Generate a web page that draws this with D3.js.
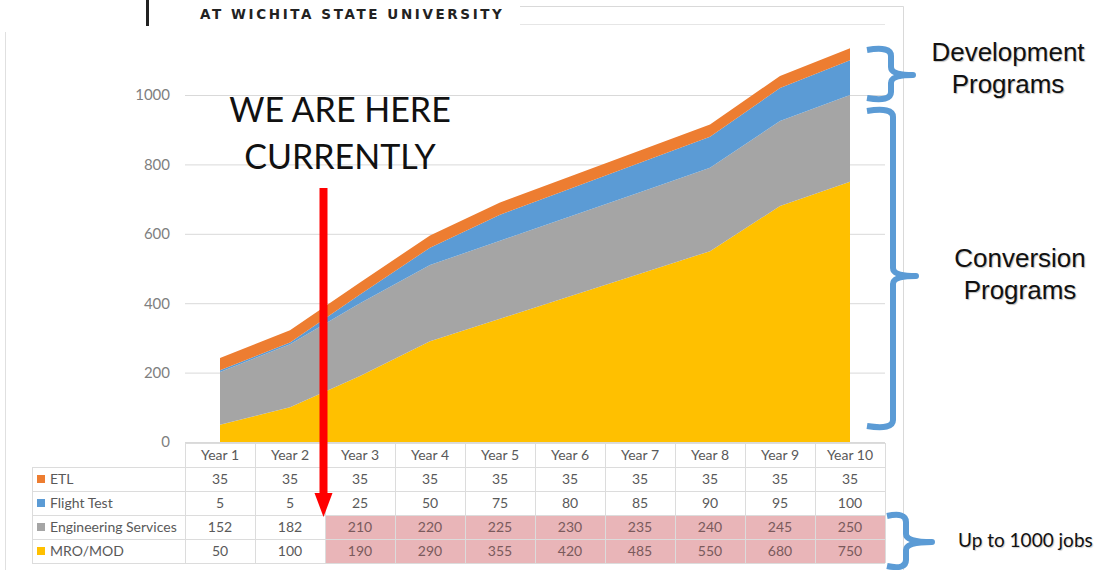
<!DOCTYPE html>
<html lang="en">
<head>
<meta charset="UTF-8">
<title>Jobs by program</title>
<script src="https://cdnjs.cloudflare.com/ajax/libs/d3/7.8.5/d3.min.js"></script>
<style>
    body { margin: 0; background: #fff; }
    svg { display: block; }
    .tick text { fill: #7f7f7f; font-family: Lato, sans-serif; font-size: 15px; }
    .cell { fill: #595959; font-family: Lato, sans-serif; font-size: 14px; }
    .note { fill: #111; }
</style>
</head>
<body>
<svg width="1100" height="570"></svg>
<script>
    // data
    const years = ["Year 1", "Year 2", "Year 3", "Year 4", "Year 5", "Year 6", "Year 7", "Year 8", "Year 9", "Year 10"];
    const etl = [35, 35, 35, 35, 35, 35, 35, 35, 35, 35];
    const flightTest = [5, 5, 25, 50, 75, 80, 85, 90, 95, 100];
    const engServices = [152, 182, 210, 220, 225, 230, 235, 240, 245, 250];
    const mroMod = [50, 100, 190, 290, 355, 420, 485, 550, 680, 750];
    const yTicks = [0, 200, 400, 600, 800, 1000];

    const series = [
        { name: "ETL", values: etl, color: "#ed7d31" },
        { name: "Flight Test", values: flightTest, color: "#5b9bd5" },
        { name: "Engineering Services", values: engServices, color: "#a5a5a5" },
        { name: "MRO/MOD", values: mroMod, color: "#ffc000" }
    ];

    const svg = d3.select("svg");

    // page header scrap
    svg.append("rect").attr("x", 146).attr("y", 0).attr("width", 3).attr("height", 26).attr("fill", "#222");
    svg.append("text").attr("x", 200).attr("y", 19)
        .attr("font-family", "'DejaVu Sans', sans-serif").attr("font-weight", "bold")
        .attr("font-size", 13.5).attr("letter-spacing", 2.6).attr("fill", "#222")
        .text("AT WICHITA STATE UNIVERSITY");
    svg.append("line").attr("x1", 520).attr("x2", 885).attr("y1", 24.5).attr("y2", 24.5).attr("stroke", "#e6e6e6");

    // chart frame
    svg.append("path").attr("d", "M520,6.5H903.5V570").attr("fill", "none").attr("stroke", "#d9d9d9");
    svg.append("line").attr("x1", 5.5).attr("x2", 5.5).attr("y1", 32).attr("y2", 570).attr("stroke", "#e0e0e0");

    const x = d3.scaleBand().domain(years).range([185, 885]);
    const y = d3.scaleLinear().domain([0, 1000]).range([442, 95]);
    const cx = d => x(d) + x.bandwidth() / 2;

    // gridlines + axis
    const yAxis = svg.append("g").attr("transform", "translate(185,0)")
        .call(d3.axisLeft(y).tickValues(yTicks).tickSize(-700).tickPadding(15).tickFormat(d3.format("d")));
    yAxis.select(".domain").remove();
    yAxis.selectAll(".tick line").attr("stroke", "#d9d9d9");

    // stacked areas
    const rows = years.map((yr, i) => {
        const r = { year: yr };
        series.forEach(s => r[s.name] = s.values[i]);
        return r;
    });
    const stack = d3.stack().keys(series.map(s => s.name).reverse());
    const layers = stack(rows);
    const area = d3.area()
        .x(d => cx(d.data.year))
        .y0(d => y(d[0]))
        .y1(d => y(d[1]));
    svg.append("g").selectAll("path")
        .data(layers)
        .join("path")
        .attr("d", area)
        .attr("fill", d => series.find(s => s.name === d.key).color);

    // data table
    const rowH = 24;
    const tableTop = 443;
    const labelX = 32;
    const tbl = svg.append("g");

    // highlight for conversion jobs (Year 3 onward, two bottom rows)
    tbl.append("rect")
        .attr("x", x("Year 3")).attr("y", tableTop + rowH * 3)
        .attr("width", x("Year 10") + x.bandwidth() - x("Year 3"))
        .attr("height", rowH * 2)
        .attr("fill", "#e9b5b8");

    const gridColor = "#dcdcdc";
    tbl.append("line").attr("x1", 185).attr("x2", 885).attr("y1", tableTop + 0.5).attr("y2", tableTop + 0.5).attr("stroke", gridColor);
    for (let r = 1; r <= 5; r++) {
        tbl.append("line").attr("x1", labelX).attr("x2", 885)
            .attr("y1", tableTop + r * rowH + 0.5).attr("y2", tableTop + r * rowH + 0.5).attr("stroke", gridColor);
    }
    tbl.append("line").attr("x1", labelX + 0.5).attr("x2", labelX + 0.5)
        .attr("y1", tableTop + rowH).attr("y2", tableTop + rowH * 5).attr("stroke", gridColor);
    years.concat(["end"]).forEach((yr, i) => {
        const xx = i < years.length ? x(yr) : 885;
        tbl.append("line").attr("x1", xx + 0.5).attr("x2", xx + 0.5)
            .attr("y1", tableTop).attr("y2", tableTop + rowH * 5).attr("stroke", gridColor);
    });

    tbl.selectAll("text.hdr").data(years).join("text")
        .attr("class", "cell hdr")
        .attr("x", d => cx(d)).attr("y", tableTop + rowH / 2 + 5)
        .attr("text-anchor", "middle")
        .text(d => d);

    series.forEach((s, ri) => {
        const top = tableTop + rowH * (ri + 1);
        tbl.append("rect").attr("x", 37).attr("y", top + rowH / 2 - 4).attr("width", 8).attr("height", 8).attr("fill", s.color);
        tbl.append("text").attr("class", "cell").attr("x", 50).attr("y", top + rowH / 2 + 5).text(s.name);
        tbl.selectAll(null).data(s.values).join("text")
            .attr("class", "cell")
            .attr("x", (d, i) => cx(years[i])).attr("y", top + rowH / 2 + 5)
            .attr("text-anchor", "middle")
            .style("fill", (d, i) => (ri >= 2 && i >= 2) ? "#7a5a5c" : null)
            .text(d => d);
    });

    // "we are here" annotation
    const bigFont = sel => sel.style("font-family", "Lato, sans-serif").style("font-size", "34px");
    svg.append("text").attr("class", "note").attr("x", 340).attr("y", 122)
        .attr("text-anchor", "middle").call(bigFont).text("WE ARE HERE");
    svg.append("text").attr("class", "note").attr("x", 340).attr("y", 169)
        .attr("text-anchor", "middle").call(bigFont).text("CURRENTLY");
    const ax = 323.5;
    svg.append("rect").attr("x", ax - 4).attr("y", 188).attr("width", 8).attr("height", 306).attr("fill", "#ff0000");
    svg.append("path").attr("d", `M${ax - 9},493L${ax + 9},493L${ax},517Z`).attr("fill", "#ff0000");

    // braces
    const brace = (xe, xs, xt, y0, y1, ym) => {
        const r = 8;
        return `M${xe},${y0 + 2}Q${xs},${y0 - 2} ${xs},${y0 + r}` +
            `L${xs},${ym - r}Q${xs},${ym} ${xt},${ym}` +
            `M${xs},${ym - r}Q${xs},${ym} ${xt},${ym}` +
            `Q${xs},${ym} ${xs},${ym + r}L${xs},${y1 - r}Q${xs},${y1 + 2} ${xe},${y1 - 2}`;
    };
    const bstyle = sel => sel.attr("fill", "none").attr("stroke", "#5b9bd5").attr("stroke-width", 6)
        .attr("stroke-linecap", "butt").attr("stroke-linejoin", "round");
    svg.append("path").attr("d", brace(867, 891, 913, 48, 100, 75)).call(bstyle);
    svg.append("path").attr("d", brace(867, 893, 916, 109, 428, 276)).call(bstyle);
    svg.append("path").attr("d", brace(887, 906, 932, 514, 568, 542)).call(bstyle);

    const sideFont = sel => sel.style("font-family", "'Liberation Sans', Arial, sans-serif").style("font-size", "26px")
        .style("text-shadow", "1px 1px 1px rgba(0,0,0,0.25)");
    svg.append("text").attr("class", "note").attr("x", 1008).attr("y", 61).attr("text-anchor", "middle")
        .call(sideFont).text("Development");
    svg.append("text").attr("class", "note").attr("x", 1008).attr("y", 93).attr("text-anchor", "middle")
        .call(sideFont).text("Programs");
    svg.append("text").attr("class", "note").attr("x", 1020).attr("y", 267).attr("text-anchor", "middle")
        .call(sideFont).text("Conversion");
    svg.append("text").attr("class", "note").attr("x", 1020).attr("y", 299).attr("text-anchor", "middle")
        .call(sideFont).text("Programs");
    svg.append("text").attr("class", "note").attr("x", 958).attr("y", 547)
        .style("font-family", "Lato, sans-serif").style("font-size", "19px")
        .style("text-shadow", "1px 1px 1px rgba(0,0,0,0.2)")
        .text("Up to 1000 jobs");
</script>
</body>
</html>
